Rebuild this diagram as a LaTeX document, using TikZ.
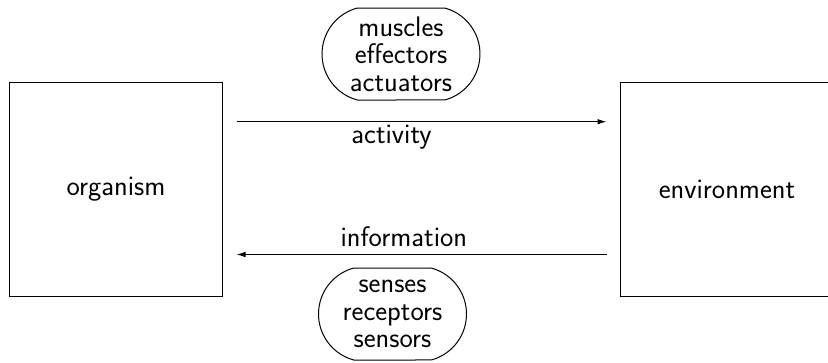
\documentclass[tikz,border=0pt]{standalone}
\usepackage{fontspec}
\usetikzlibrary{arrows.meta,shapes.misc}
\begin{document}
\begin{tikzpicture}[x=1pt,y=-1pt,
  every node/.style={font=\sffamily\fontsize{28.3}{27.5}\selectfont},
  box/.style={draw, line width=1pt, minimum width=213pt, minimum height=214pt, inner sep=0pt},
  pill/.style={draw, line width=1pt, rounded rectangle, rounded rectangle arc length=150, minimum height=92pt, inner sep=0pt, align=center},
  flow/.style={line width=1pt, -{Latex[length=9pt,width=5.5pt]}, shorten >=13.5pt, shorten <=13.5pt},
  lab/.style={anchor=base}]
\useasboundingbox (0,0) rectangle (828,362);
\node[box] (org) at (116,189) {organism};
\node[box] (env) at (727,189) {environment};
\node[pill, minimum width=158pt] (eff) at (401,54) {muscles\\effectors\\actuators};
\node[pill, minimum width=148pt] (sen) at (392.5,314) {senses\\receptors\\sensors};
\draw[flow] ([yshift=67.3pt]org.east) -- node[lab, pos=0.4245, yshift=-21.6pt] (act) {activity} ([yshift=67.3pt]env.west);
\draw[flow] ([yshift=-65.5pt]env.west) -- node[lab, pos=0.5445, yshift=7.8pt] (inf) {information} ([yshift=-65.5pt]org.east);
\end{tikzpicture}
\end{document}
